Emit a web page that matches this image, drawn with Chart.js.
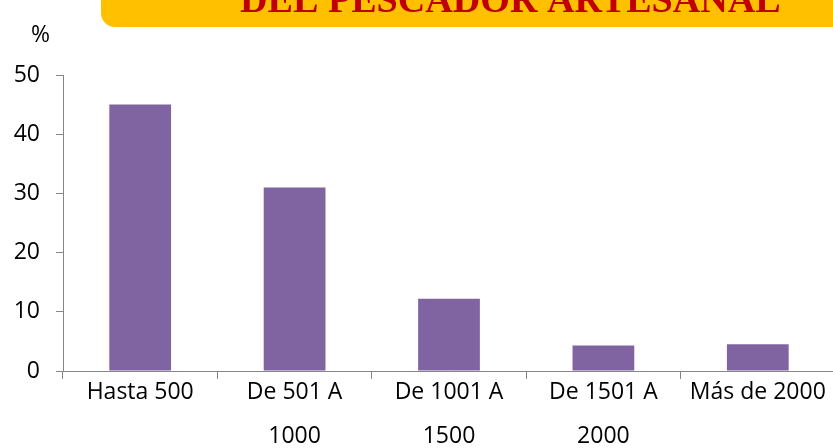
<!DOCTYPE html>
<html>
<head>
<meta charset="utf-8">
<script src="https://cdn.jsdelivr.net/npm/chart.js@4/dist/chart.umd.min.js"></script>
<style>
  html, body { margin: 0; padding: 0; background: #fff; overflow: hidden; width: 833px; height: 448px; }
  #c { display: block; }
</style>
</head>
<body>
<canvas id="c" width="835" height="448"></canvas>
<script>
const categories = [["Hasta 500"], ["De 501 A", "1000"], ["De 1001 A", "1500"], ["De 1501 A", "2000"], ["Más de 2000"]];
const values = [45.0, 31.0, 12.2, 4.3, 4.5];
const yTicks = [0, 10, 20, 30, 40, 50];
const bannerText = "DEL PESCADOR ARTESANAL";
const unitLabel = "%";

const axisColor = "#868686";
const labelFont = "'Open Sans', sans-serif";

const decorPlugin = {
  id: "decor",
  beforeDraw(chart) {
    const ctx = chart.ctx;
    ctx.save();
    // banner
    ctx.fillStyle = "#FFC000";
    ctx.beginPath();
    ctx.roundRect(101, -20, 800, 47, 14);
    ctx.fill();
    ctx.font = "bold 100px 'Liberation Serif', 'Times New Roman', serif";
    const w = ctx.measureText(bannerText).width;
    const size = 100 * 541 / w;
    ctx.font = "bold " + size + "px 'Liberation Serif', 'Times New Roman', serif";
    ctx.fillStyle = "#C00000";
    ctx.textBaseline = "alphabetic";
    ctx.textAlign = "left";
    ctx.fillText(bannerText, 240, 12);
    // unit label
    ctx.font = "23px " + labelFont;
    ctx.fillStyle = "#000";
    ctx.textAlign = "center";
    ctx.fillText(unitLabel, 40.5, 42);
    ctx.restore();
  }
};

new Chart(document.getElementById("c"), {
  type: "bar",
  data: {
    labels: categories,
    datasets: [{
      data: values,
      backgroundColor: "#8064A2",
      borderWidth: 0,
      categoryPercentage: 1.0,
      barPercentage: 0.4
    }]
  },
  options: {
    responsive: false,
    animation: false,
    devicePixelRatio: 1,
    layout: { padding: { top: 75, left: 0, right: 0, bottom: 0 } },
    plugins: { legend: { display: false }, tooltip: { enabled: false }, title: { display: false } },
    scales: {
      x: {
        grid: { display: true, drawOnChartArea: false, offset: true, color: axisColor, tickColor: axisColor, tickLength: 8, lineWidth: 1 },
        border: { display: true, color: axisColor, width: 1 },
        ticks: {
          color: "#000",
          font: { family: labelFont, size: 23, lineHeight: 44 / 23 },
          padding: -9,
          maxRotation: 0,
          autoSkip: false
        },
        afterFit(scale) { scale.height = 77; }
      },
      y: {
        min: 0,
        max: 50,
        afterBuildTicks(scale) { scale.ticks = yTicks.map(v => ({ value: v })); },
        grid: { display: true, drawOnChartArea: false, color: axisColor, tickColor: axisColor, tickLength: 7, lineWidth: 1 },
        border: { display: true, color: axisColor, width: 1 },
        ticks: {
          color: "#000",
          font: { family: labelFont, size: 23 },
          padding: 16
        },
        afterFit(scale) { scale.width = 63; }
      }
    }
  },
  plugins: [decorPlugin]
});
</script>
</body>
</html>
